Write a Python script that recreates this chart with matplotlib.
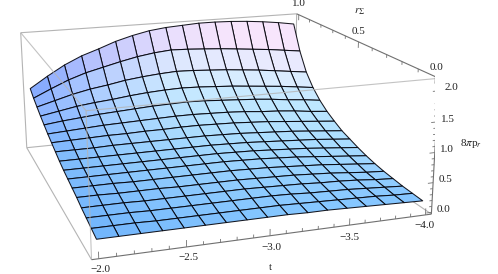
import numpy as np
import matplotlib
matplotlib.use('Agg')
import matplotlib.pyplot as plt

plt.rcParams['font.family'] = 'Liberation Serif'
plt.rcParams['mathtext.fontset'] = 'stix'

# surface heights, one row per mesh line in r
t_vals = [-2.0, -2.125, -2.25, -2.375, -2.5, -2.625, -2.75, -2.875, -3.0,
          -3.125, -3.25, -3.375, -3.5, -3.625, -3.75, -3.875, -4.0]
r_vals = [0.0, 0.0625, 0.125, 0.1875, 0.25, 0.3125, 0.375, 0.4375, 0.5,
          0.5625, 0.625, 0.6875, 0.75, 0.8125, 0.875, 0.9375, 1.0]
z_vals = [
    [0.23,0.23,0.23,0.23,0.23,0.23,0.23,0.23,0.23,0.23,0.22,0.22,0.21,0.20,0.19,0.18,0.17],
    [0.27,0.27,0.27,0.26,0.26,0.26,0.26,0.26,0.26,0.26,0.25,0.24,0.23,0.22,0.21,0.19,0.18],
    [0.31,0.31,0.31,0.30,0.30,0.30,0.30,0.30,0.30,0.30,0.29,0.27,0.26,0.25,0.23,0.21,0.19],
    [0.35,0.35,0.35,0.34,0.34,0.34,0.34,0.34,0.34,0.33,0.32,0.31,0.29,0.28,0.26,0.23,0.21],
    [0.40,0.40,0.39,0.39,0.39,0.38,0.38,0.38,0.38,0.37,0.36,0.35,0.33,0.31,0.28,0.25,0.23],
    [0.44,0.44,0.44,0.43,0.43,0.43,0.43,0.43,0.43,0.42,0.41,0.39,0.37,0.35,0.32,0.29,0.26],
    [0.48,0.48,0.48,0.48,0.48,0.48,0.48,0.48,0.48,0.47,0.46,0.44,0.42,0.39,0.36,0.33,0.30],
    [0.52,0.52,0.52,0.52,0.52,0.52,0.52,0.52,0.52,0.51,0.50,0.48,0.46,0.44,0.41,0.38,0.35],
    [0.57,0.57,0.57,0.57,0.57,0.57,0.57,0.57,0.57,0.56,0.55,0.53,0.51,0.49,0.47,0.44,0.41],
    [0.63,0.63,0.63,0.64,0.64,0.64,0.64,0.64,0.64,0.63,0.62,0.60,0.58,0.56,0.53,0.50,0.47],
    [0.69,0.70,0.71,0.72,0.72,0.73,0.73,0.74,0.74,0.73,0.72,0.70,0.68,0.65,0.62,0.59,0.56],
    [0.75,0.77,0.79,0.81,0.82,0.83,0.84,0.85,0.85,0.84,0.83,0.81,0.78,0.76,0.73,0.69,0.66],
    [0.82,0.86,0.89,0.92,0.94,0.96,0.98,0.99,1.00,0.99,0.97,0.95,0.93,0.90,0.86,0.83,0.79],
    [0.89,0.95,1.01,1.05,1.08,1.12,1.15,1.17,1.18,1.17,1.15,1.13,1.10,1.07,1.04,1.00,0.96],
    [0.97,1.06,1.15,1.22,1.27,1.33,1.37,1.40,1.42,1.41,1.39,1.37,1.34,1.31,1.27,1.23,1.19],
    [1.05,1.20,1.34,1.45,1.53,1.61,1.68,1.73,1.76,1.75,1.73,1.71,1.68,1.65,1.62,1.58,1.54],
    [1.15,1.36,1.55,1.70,1.81,1.93,2.02,2.09,2.13,2.15,2.17,2.17,2.16,2.14,2.11,2.07,2.02],
]
t_labels = ['\u22122.0', '\u22122.5', '\u22123.0', '\u22123.5', '\u22124.0']
r_labels = ['0.0', '0.5', '1.0']
z_labels = ['0.0', '0.5', '1.0', '1.5', '2.0']

T, R = np.meshgrid(t_vals, r_vals)
Z = np.array(z_vals)

W, H = 498, 274
fig = plt.figure(figsize=(W / 100, H / 100), dpi=100)
# camera fitted to the corners of the box in the picture
ax = fig.add_axes([-26.11 / W, -79.63 / H, 461.4 / W, 461.4 / H], projection='3d')
ax.view_init(16.115, 161.475, 0.225)
ax.set_proj_type('persp', focal_length=0.441)
ax.set_box_aspect((1.016, 1, 0.404))
r_lo, r_hi = -0.02, 1.02
t_lo, t_hi = -4.04, -1.96
z_lo, z_hi = -0.03, 2.2
ax.set_xlim(r_lo, r_hi)
ax.set_ylim(t_lo, t_hi)
ax.set_zlim(z_lo, z_hi)
ax.set_axis_off()
ax.computed_zorder = False

# lighting of the surface, blended between a few sampled colours
rows = [0, 8, 12, 14, 16]
cols = [0, 4, 8, 12, 16]
col_table = np.array([
    [[112,180,252],[124,190,253],[130,196,255],[132,198,255],[130,195,255]],
    [[125,186,252],[150,206,253],[165,218,254],[170,221,255],[172,222,255]],
    [[130,178,255],[170,210,255],[190,230,255],[193,232,255],[192,232,255]],
    [[140,178,255],[182,212,255],[215,236,255],[224,237,255],[227,237,255]],
    [[125,165,255],[192,192,252],[238,218,252],[255,226,251],[253,226,251]],
], float) / 255
colors = np.ones((16, 16, 4))
for k in range(16):
    for j in range(16):
        for c in range(3):
            across = [np.interp(j + .5, cols, col_table[i, :, c]) for i in range(5)]
            colors[k, j, c] = np.interp(k + .5, rows, across)


def seg(a, b, color, lw, zo, alpha=1):
    ax.plot([a[0], b[0]], [a[1], b[1]], [a[2], b[2]], color=color, lw=lw, zorder=zo,
            alpha=alpha, solid_capstyle='butt')


grey = '#b4b4b4'
dark = '#707070'
# back part of the box, behind the surface
seg((r_hi, t_hi, z_hi), (r_hi, t_lo, z_hi), grey, .8, 1)
seg((r_hi, t_hi, z_hi), (r_hi, t_hi, z_lo), grey, .8, 1)
seg((r_hi, t_hi, z_lo), (r_lo, t_hi, z_lo), grey, .8, 1)
seg((r_hi, t_hi, z_lo), (r_hi, t_lo, z_lo), grey, .8, 1)
seg((r_hi, t_lo, z_hi), (r_hi, t_lo, z_lo), grey, .8, 1)
seg((r_hi, t_lo, z_lo), (r_lo, t_lo, z_lo), grey, .8, 1)

ax.plot_surface(R, T, Z, rstride=1, cstride=1, facecolors=colors,
                edgecolor=(0, 0, 0.03, .9), linewidth=.75, shade=False, zorder=2)

# front part of the box, drawn over the surface
seg((r_hi, t_hi, z_hi), (r_lo, t_hi, z_hi), grey, .8, 3, .8)
seg((r_lo, t_hi, z_hi), (r_lo, t_lo, z_hi), grey, .8, 3, .8)
seg((r_lo, t_hi, z_hi), (r_lo, t_hi, z_lo), grey, .8, 3, .8)
seg((r_lo, t_hi, z_lo), (r_lo, t_lo, z_lo), dark, .8, 3)
seg((r_lo, t_lo, z_lo), (r_lo, t_lo, z_hi), dark, .8, 3)
seg((r_lo, t_lo, z_hi), (r_hi, t_lo, z_hi), dark, .8, 3)

# ticks on the three drawn axes
for i in range(21):
    v = -2 - i * .1
    ln = .11 if i % 5 == 0 else .055
    seg((r_lo, v, z_lo), (r_lo, v, z_lo + ln), dark, .6, 3)
for i in range(11):
    v = i * .1
    ln = .11 if i % 5 == 0 else .055
    seg((v, t_lo, z_hi), (v, t_lo, z_hi - ln), dark, .6, 3)
for i in range(21):
    v = i * .1
    ln = .035 if i % 5 == 0 else .018
    seg((r_lo, t_lo, v), (r_lo, t_lo + ln, v), dark, .6, 3)


def label(x, y, s):
    fig.text(x / W, 1 - y / H, s, ha='center', va='center', fontsize=8, color='#222222')


for s, p in zip(t_labels, [(100, 270), (188, 258), (271, 248), (349, 237), (424, 226)]):
    label(p[0], p[1], s)
for s, p in zip(r_labels, [(436, 67), (359, 31), (299, 4)]):
    label(p[0], p[1], s)
for s, p in zip(z_labels, [(443, 210), (445, 180), (447, 150), (448, 119), (451, 88)]):
    label(p[0], p[1], s)
label(270, 268, 't')
label(360, 12, r'$r_{\Sigma}$')
label(471, 144, r'8$\pi$p$_{r}$')

fig.savefig('out.png', dpi=100)
